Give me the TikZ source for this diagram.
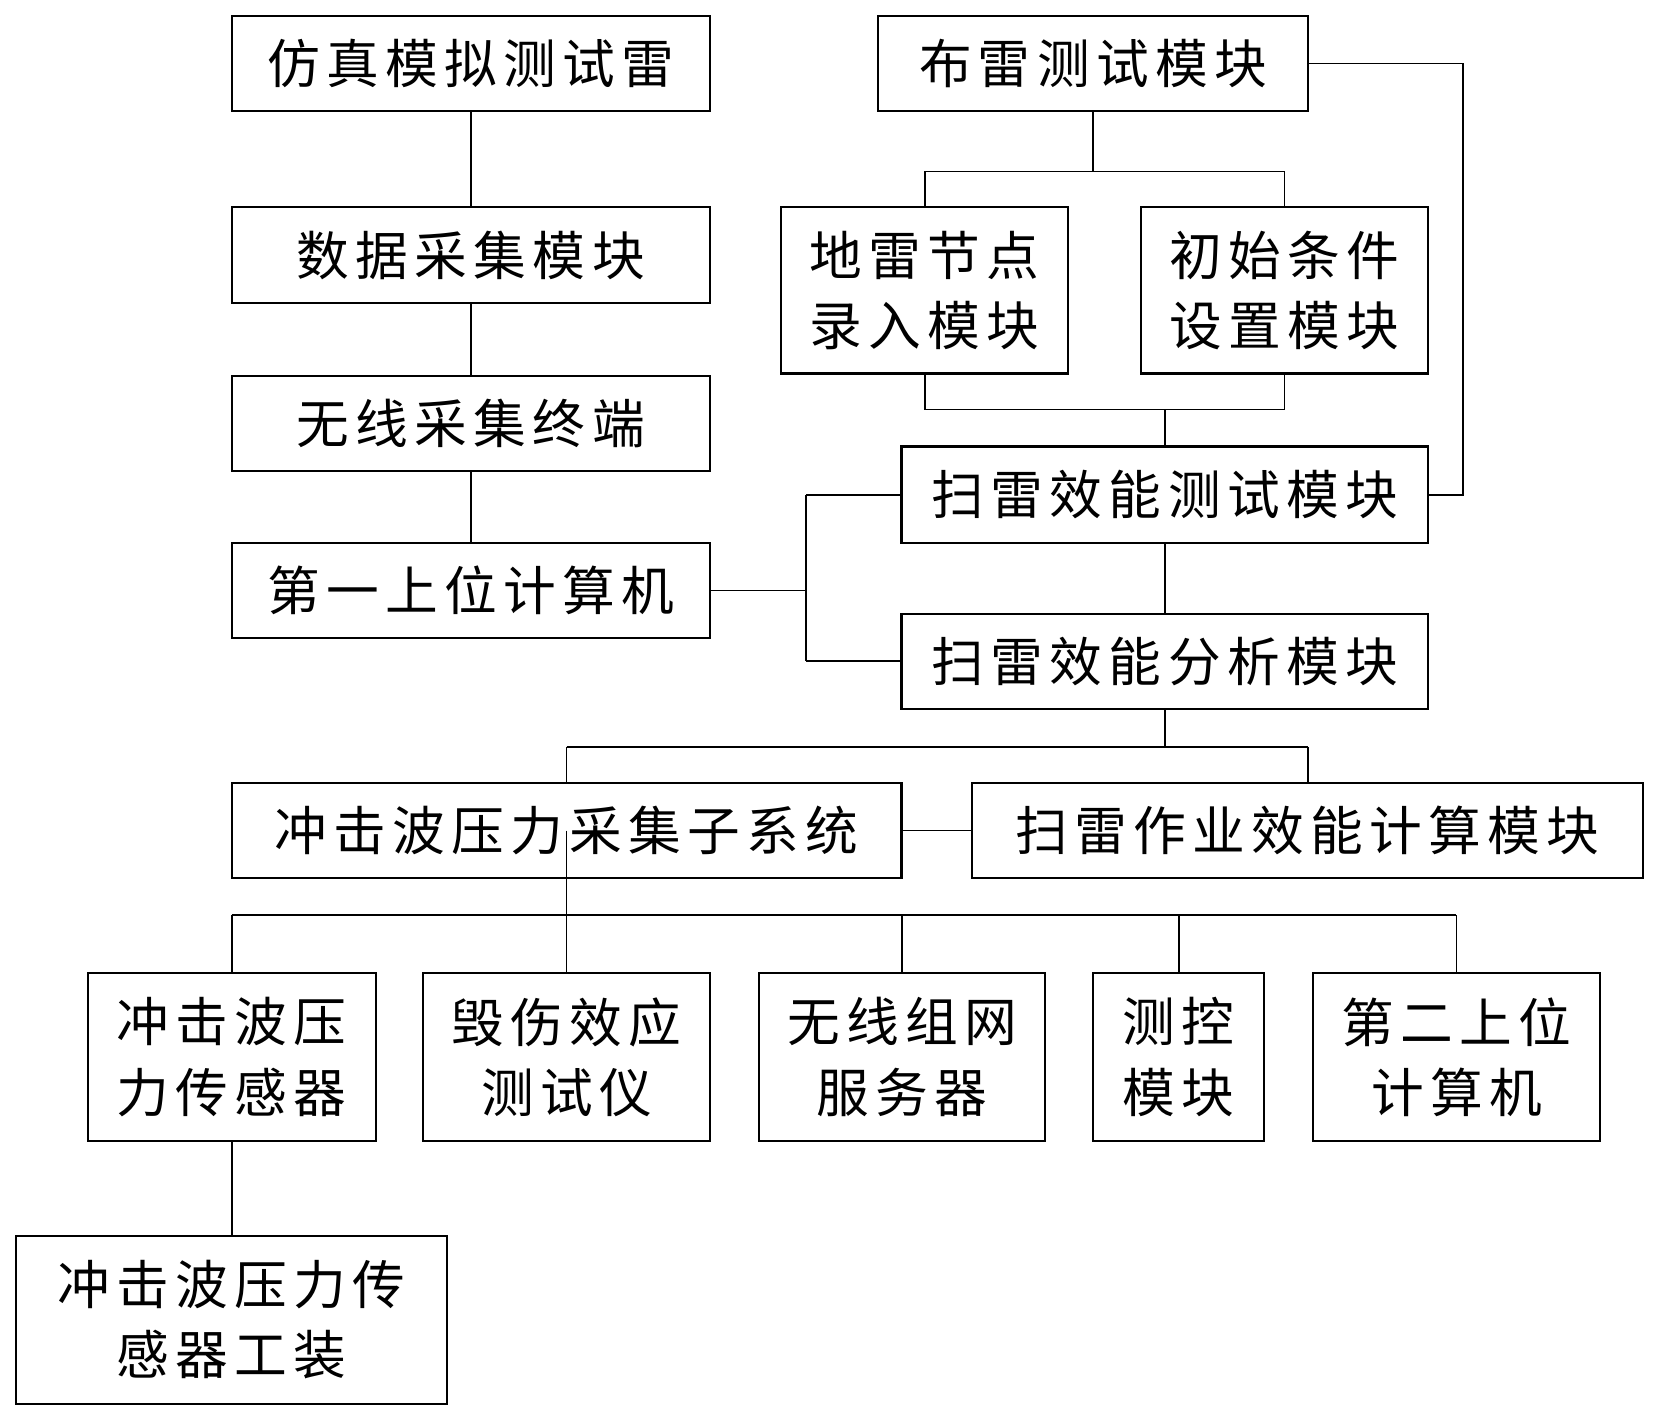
\documentclass[tikz,border=0pt]{standalone}
\usepackage{fontspec}
\setmainfont{Noto Sans CJK SC}[LetterSpace=12]
\usepackage{tikz}
\usetikzlibrary{positioning}
\newlength{\pxl}
\setlength{\pxl}{0.02116cm}
\tikzset{box/.style 2 args={draw, line width=1.2pt, minimum width=#1\pxl, minimum height=#2\pxl}}
\tikzset{link/.style={line width=1pt}}

\begin{document}
\begin{tikzpicture}[x=\pxl, y=-\pxl]
	% Default action for each node
	\tikzstyle{every node}=[inner sep=0pt, align=center, font=\fontsize{30}{40}\selectfont];

	\useasboundingbox (0,0) rectangle (1568,1343);

	% LEFT COLUMN
	\node[box={452}{90}] (sim) at (445,60) {仿真模拟测试雷};
	\node[box={452}{90}] (collect) at (445,241) {数据采集模块};
	\node[box={452}{90}] (wterm) at (445,400) {无线采集终端};
	\node[box={452}{90}] (pc1) at (445,558) {第一上位计算机};

	% RIGHT COLUMN
	\node[box={407}{90}] (bulei) at (1033,60) {布雷测试模块};
	\node[box={271}{157}] (dilei) at (874,274.5) {地雷节点\\录入模块};
	\node[box={272}{157}] (chushi) at (1214,274.5) {初始条件\\设置模块};
	\node[box={498}{91}] (test) at (1101,467.5) {扫雷效能测试模块};
	\node[box={498}{90}] (analysis) at (1101,625) {扫雷效能分析模块};

	% MIDDLE ROW
	\node[box={633}{90}] (csys) at (535.5,785) {冲击波压力采集子系统};
	\node[box={634}{90}] (calc) at (1236,785) {扫雷作业效能计算模块};

	% BOTTOM ROW
	\node[box={272}{158}] (sensor) at (219,999) {冲击波压\\力传感器};
	\node[box={271}{158}] (damage) at (535.5,999) {毁伤效应\\测试仪};
	\node[box={271}{158}] (wnet) at (852.5,999) {无线组网\\服务器};
	\node[box={162}{158}] (ctrl) at (1114,999) {测控\\模块};
	\node[box={271}{158}] (pc2) at (1376.5,999) {第二上位\\计算机};
	\node[box={407}{159}] (fixture) at (219,1247.5) {冲击波压力传\\感器工装};

	% bend points
	\coordinate (bfork) at (1033,162);	\coordinate (bleft) at (874,162);	\coordinate (bright) at (1214,162);
	\coordinate (mleft) at (874,387);	\coordinate (mmid) at (1101,387);	\coordinate (mright) at (1214,387);
	\coordinate (fbtop) at (1383,60);	\coordinate (fbbot) at (1383,467.5);
	\coordinate (pcfork) at (762,558);	\coordinate (pctop) at (762,467.5);	\coordinate (pcbot) at (762,625);
	\coordinate (afork) at (1101,706);	\coordinate (aleft) at (535.5,706);	\coordinate (aright) at (1236,706);
	\coordinate (bus1) at (219,865);	\coordinate (bus2) at (535.5,865);	\coordinate (bus3) at (852.5,865);
	\coordinate (bus4) at (1114,865);	\coordinate (bus5) at (1376.5,865);

	% Left chain
	\draw[link] (sim) -- (collect);
	\draw[link] (collect) -- (wterm);
	\draw[link] (wterm) -- (pc1);

	% Mine laying fork
	\draw[link] (bulei) -- (bfork);
	\draw[link] (bleft) -- (bright);
	\draw[link] (bleft) -- (dilei);
	\draw[link] (bright) -- (chushi);
	\draw[link] (dilei) -- (mleft) -- (mright) -- (chushi);
	\draw[link] (mmid) -- (test);
	\draw[link] (bulei) -- (fbtop) -- (fbbot) -- (test);

	% First computer
	\draw[link] (pc1) -- (pcfork);
	\draw[link] (pctop) -- (pcbot);
	\draw[link] (pctop) -- (test);
	\draw[link] (pcbot) -- (analysis);
	\draw[link] (test) -- (analysis);

	% Analysis fork
	\draw[link] (analysis) -- (afork);
	\draw[link] (aleft) -- (aright);
	\draw[link] (aleft) -- (csys);
	\draw[link] (aright) -- (calc);
	\draw[link] (csys) -- (calc);

	% Bottom bus
	\draw[link] (csys.center) -- (bus2);
	\draw[link] (bus1) -- (bus5);
	\draw[link] (bus1) -- (sensor);
	\draw[link] (bus2) -- (damage);
	\draw[link] (bus3) -- (wnet);
	\draw[link] (bus4) -- (ctrl);
	\draw[link] (bus5) -- (pc2);
	\draw[link] (sensor) -- (fixture);
\end{tikzpicture}
\end{document}
